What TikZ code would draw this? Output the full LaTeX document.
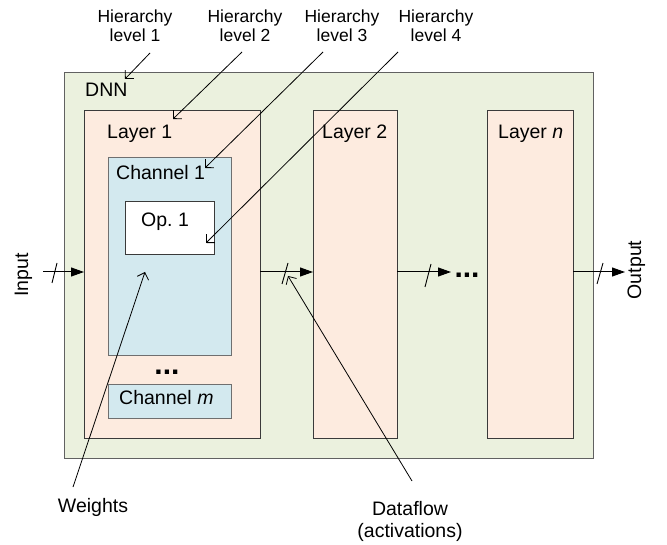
\documentclass[tikz,border=0pt]{standalone}
\usepackage{fontspec}
\setmainfont{Liberation Sans}
\usetikzlibrary{arrows.meta}

\definecolor{dnnfill}{HTML}{EBF1DE}
\definecolor{layerfill}{HTML}{FDEBDF}
\definecolor{chanfill}{HTML}{D3E9EF}
\definecolor{edgegray}{HTML}{3A3A3A}
\definecolor{chanedge}{HTML}{6F6F6F}

\newcommand\lblsize{\fontsize{19.5}{22}\selectfont}
\newcommand\hiersize{\fontsize{17.5}{19.5}\selectfont}
\frenchspacing

\begin{document}
\begin{tikzpicture}[x=1pt,y=-1pt,
  box/.style={draw=edgegray, line width=1pt, inner sep=0pt, outer sep=0pt, anchor=north west},
  dnnbox/.style={box, fill=dnnfill, draw=edgegray!80},
  layerbox/.style={box, fill=layerfill},
  chanbox/.style={box, fill=chanfill, draw=chanedge},
  opbox/.style={box, fill=white},
  lbl/.style={inner sep=0pt, font=\lblsize, anchor=base west},
  hier/.style={inner sep=0pt, font=\hiersize, align=center, anchor=base},
  note/.style={inner sep=0pt, font=\lblsize, align=center, anchor=base},
  moredots/.style={inner sep=0pt, font=\fontsize{30}{30}\selectfont\bfseries, anchor=base},
  flow/.style={line width=1pt, -{Triangle[length=13pt,width=9pt]}},
  busmark/.style={line width=0.9pt},
  pointer/.style={line width=0.8pt, -{Straight Barb[length=6pt,width=12pt]}}
]
\useasboundingbox (0,0) rectangle (667,545);

% boxes of the hierarchy
\node[dnnbox, minimum width=529pt, minimum height=385pt] (dnn) at (64,73) {};
\node[layerbox, minimum width=176pt, minimum height=327pt] (layer1) at (84,111) {};
\node[layerbox, minimum width=84pt, minimum height=327pt] (layer2) at (313,111) {};
\node[layerbox, minimum width=86pt, minimum height=327pt] (layern) at (487,111) {};
\node[chanbox, minimum width=123pt, minimum height=198pt] (chan1) at (108,158) {};
\node[chanbox, minimum width=123pt, minimum height=33pt] (chanm) at (108,385) {};
\node[opbox, minimum width=89pt, minimum height=53pt] (op1) at (125,202) {};

% box titles
\node[lbl] (dnnlbl) at (85,97) {DNN};
\node[lbl] (l1lbl) at (107,139) {Layer 1};
\node[lbl] (l2lbl) at (322,139) {Layer 2};
\node[lbl] (lnlbl) at (498,139) {Layer \textit{n}};
\node[lbl] (c1lbl) at (116,180) {Channel 1};
\node[lbl] (cmlbl) at (119,405) {Channel \textit{m}};
\node[lbl] (op1lbl) at (141,227) {Op.\ 1};
\node[moredots] (chdots) at (167,374) {...};

% dataflow through the layers
\coordinate (flowy) at (0,272);
\coordinate (inpstart) at (43,272);
\coordinate (dotsin) at (451,272);
\coordinate (outend) at (625,272);
\node[moredots] (laydots) at (467,278) {...};

\draw[flow] (inpstart) -- (inpstart -| layer1.west);
\draw[flow] (layer1.east |- flowy) -- (layer2.west |- flowy);
\draw[flow] (layer2.east |- flowy) -- (dotsin);
\draw[flow] (layern.east |- flowy) -- (outend);

\draw[busmark] (54.5,273) +(-2.5,10) -- +(2.5,-10);
\draw[busmark] (285,273.5) +(-3,10.5) -- +(3,-10.5);
\draw[busmark] (428,275.5) +(-3,11.5) -- +(3,-11.5);
\draw[busmark] (600,273.5) +(-3,10.5) -- +(3,-10.5);

\node[rotate=90, inner sep=0pt, font=\lblsize, anchor=base] (inlbl) at (28,275) {Input};
\node[rotate=90, inner sep=0pt, font=\lblsize, anchor=base] (outlbl) at (641,270) {Output};

% hierarchy level captions
\node[hier] (h1) at (135,42) {Hierarchy\\level 1};
\node[hier] (h2) at (245,42) {Hierarchy\\level 2};
\node[hier] (h3) at (342,42) {Hierarchy\\level 3};
\node[hier] (h4) at (436,42) {Hierarchy\\level 4};

\coordinate (h1s) at (150,53);  \coordinate (h1e) at (125,79);
\coordinate (h2s) at (242,52);  \coordinate (h2e) at (173,119);
\coordinate (h3s) at (323,52);  \coordinate (h3e) at (205,168);
\coordinate (h4s) at (398,52);  \coordinate (h4e) at (206,243);
\draw[pointer] (h1s) -- (h1e);
\draw[pointer] (h2s) -- (h2e);
\draw[pointer] (h3s) -- (h3e);
\draw[pointer] (h4s) -- (h4e);

% bottom captions
\node[note] (wts) at (93,512) {Weights};
\node[note] (dflow) at (410,537) {Dataflow\\(activations)};
\coordinate (wstart) at (73,487);   \coordinate (wtip) at (145,272);
\coordinate (dstart) at (412,481);  \coordinate (dtip) at (288,276);
\draw[pointer] (wstart) -- (wtip);
\draw[pointer] (dstart) -- (dtip);
\end{tikzpicture}
\end{document}
